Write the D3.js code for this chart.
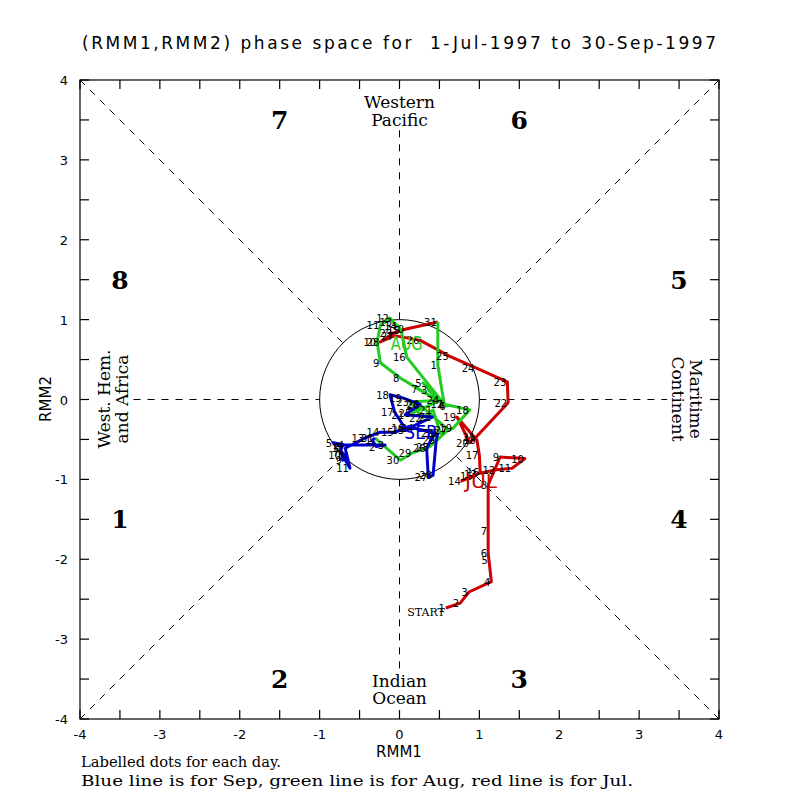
<!DOCTYPE html>
<html>
<head>
<meta charset="UTF-8">
<title>RMM phase space</title>
<style>
body { margin: 0; background: #fff; }
svg text { white-space: pre; }
.tick { font: 13px "DejaVu Sans", sans-serif; }
.serif { font-family: "DejaVu Serif", serif; }
.day { font: 10px "DejaVu Sans", sans-serif; }
</style>
</head>
<body>
<script src="https://cdn.jsdelivr.net/npm/d3@7"></script>
<script>

// RMM1 / RMM2 values for each day
var julRmm1 = [0.58, 0.76, 0.87, 1.15, 1.12, 1.11, 1.11, 1.11, 1.26, 1.57, 1.41, 1.21, 0.98, 0.78, 0.93, 1.01,
               1.00, 0.97, 0.72, 0.88, 0.96, 1.36, 1.35, 0.95, 0.63, 0.26, -0.06, -0.24, -0.08, 0.07, 0.48];
var julRmm2 = [-2.61, -2.55, -2.41, -2.28, -2.01, -1.92, -1.65, -1.07, -0.72, -0.74, -0.86, -0.88, -0.93, -1.02, -0.96, -0.91,
               -0.70, -0.51, -0.22, -0.54, -0.47, -0.04, 0.22, 0.40, 0.54, 0.74, 0.80, 0.72, 0.83, 0.88, 0.97];

var augRmm1 = [0.48, 0.56, 0.36, 0.58, 0.29, 0.59, 0.24, 0.01, -0.24, -0.28, -0.24, -0.12, -0.08, -0.02, 0.02, 0.09,
               0.56, 0.88, 0.67, 0.51, 0.42, 0.29, 0.13, 0.51, 0.16, 0.26, 0.61, 0.38, 0.16, 0.01, -0.31];
var augRmm2 = [0.43, -0.06, 0.12, -0.08, 0.21, -0.08, 0.13, 0.27, 0.46, 0.72, 0.93, 1.02, 0.97, 0.92, 0.87, 0.53,
               -0.06, -0.13, -0.36, -0.42, -0.13, -0.23, -0.03, -0.01, -0.17, -0.07, -0.38, -0.59, -0.67, -0.76, -0.48];

var sepRmm1 = [-0.34, -0.29, -0.18, -0.68, -0.83, -0.72, -0.74, -0.68, -0.71, -0.72, -0.62, -0.68, -0.43, -0.24, -0.06,
               0.07, -0.06, -0.12, 0.04, 0.26, 0.07, 0.41, 0.07, 0.19, 0.44, 0.34, 0.36, 0.42, 0.46, 0.48];
var sepRmm2 = [-0.51, -0.59, -0.57, -0.57, -0.54, -0.59, -0.66, -0.69, -0.76, -0.69, -0.86, -0.61, -0.48, -0.41, -0.41,
               -0.36, -0.16, 0.06, 0.02, -0.06, -0.19, -0.22, -0.38, -0.36, -0.42, -0.61, -0.97, -0.95, -0.51, -0.42];

var months = ["JUL", "AUG", "SEP"];
var monthNames = ["Jul", "Aug", "Sep"];
var monthColors = ["#cc0000", "#22cc22", "#0000cc"];

var axisTicks = [-4, -3, -2, -1, 0, 1, 2, 3, 4];
var phaseNumbers = [1, 2, 3, 4, 5, 6, 7, 8];

var W = 800, H = 800;

var svg = d3.select("body").append("svg")
    .attr("width", W)
    .attr("height", H);

var x = d3.scaleLinear().domain([-4, 4]).range([80, 719]);
var y = d3.scaleLinear().domain([-4, 4]).range([719, 80]);

// title
svg.append("text")
    .attr("x", 82).attr("y", 49)
    .attr("textLength", 634).attr("lengthAdjust", "spacing")
    .style("font", "17px 'DejaVu Sans', sans-serif")
    .text("(RMM1,RMM2) phase space for  1-Jul-1997 to 30-Sep-1997");

// dashed guide lines
var dash = svg.append("g")
    .attr("stroke", "#000").attr("stroke-width", 1)
    .attr("stroke-dasharray", "7,7").attr("fill", "none");

var r = Math.SQRT1_2;
[[-1, -1], [1, -1], [1, 1], [-1, 1]].forEach(function(c) {
  dash.append("line")
      .attr("x1", x(4 * c[0])).attr("y1", y(4 * c[1]))
      .attr("x2", x(r * c[0])).attr("y2", y(r * c[1]));
});
dash.append("line").attr("x1", x(0)).attr("x2", x(0)).attr("y1", y(3.37)).attr("y2", y(1));
dash.append("line").attr("x1", x(0)).attr("x2", x(0)).attr("y1", y(-1)).attr("y2", y(-3.38));
dash.append("line").attr("y1", y(0)).attr("y2", y(0)).attr("x1", x(-3.33)).attr("x2", x(-1));
dash.append("line").attr("y1", y(0)).attr("y2", y(0)).attr("x1", x(1)).attr("x2", x(3.35));

// unit circle
svg.append("circle")
    .attr("cx", x(0)).attr("cy", y(0))
    .attr("r", x(1) - x(0))
    .attr("fill", "none").attr("stroke", "#000").attr("stroke-width", 1);

// frame and inward ticks
var minor = d3.range(-4, 4.01, 0.5);
var axes = svg.append("g").attr("stroke", "#000").attr("stroke-width", 1.2);
axes.append("rect")
    .attr("x", x(-4)).attr("y", y(4))
    .attr("width", x(4) - x(-4)).attr("height", y(-4) - y(4))
    .attr("fill", "none");
minor.forEach(function(t) {
  axes.append("line").attr("x1", x(t)).attr("x2", x(t)).attr("y1", y(-4)).attr("y2", y(-4) - 9);
  axes.append("line").attr("x1", x(t)).attr("x2", x(t)).attr("y1", y(4)).attr("y2", y(4) + 9);
  axes.append("line").attr("y1", y(t)).attr("y2", y(t)).attr("x1", x(-4)).attr("x2", x(-4) + 9);
  axes.append("line").attr("y1", y(t)).attr("y2", y(t)).attr("x1", x(4)).attr("x2", x(4) - 9);
});

svg.selectAll(".xt").data(axisTicks).enter().append("text")
    .attr("class", "tick")
    .attr("x", function(d) { return x(d); })
    .attr("y", 739)
    .attr("text-anchor", "middle")
    .text(function(d) { return d < 0 ? "-" + (-d) : d; });

svg.selectAll(".yt").data(axisTicks).enter().append("text")
    .attr("class", "tick")
    .attr("x", 68)
    .attr("y", function(d) { return y(d) + 5; })
    .attr("text-anchor", "end")
    .text(function(d) { return d < 0 ? "-" + (-d) : d; });

svg.append("text")
    .attr("x", 399).attr("y", 757)
    .attr("text-anchor", "middle")
    .style("font", "15px 'DejaVu Sans', sans-serif")
    .text("RMM1");
svg.append("text")
    .attr("transform", "translate(51,399) rotate(-90)")
    .attr("text-anchor", "middle")
    .style("font", "15px 'DejaVu Sans', sans-serif")
    .text("RMM2");

// phase numbers
var phasePos = {1: [-3.5, -1.5], 2: [-1.5, -3.5], 3: [1.5, -3.5], 4: [3.5, -1.5],
                5: [3.5, 1.5], 6: [1.5, 3.5], 7: [-1.5, 3.5], 8: [-3.5, 1.5]};
svg.selectAll(".phase").data(phaseNumbers).enter().append("text")
    .attr("class", "serif")
    .attr("x", function(d) { return x(phasePos[d][0]); })
    .attr("y", function(d) { return y(phasePos[d][1]) + 9; })
    .attr("text-anchor", "middle")
    .style("font-size", "25px").style("font-weight", "bold")
    .text(function(d) { return d; });

// region names
function region(lines, tx, ty, rot, step) {
  var g = svg.append("g").attr("transform", "translate(" + tx + "," + ty + ") rotate(" + rot + ")");
  lines.forEach(function(s, i) {
    g.append("text")
        .attr("class", "serif")
        .attr("x", 0).attr("y", i * step)
        .attr("text-anchor", "middle")
        .style("font-size", "17px")
        .text(s);
  });
}
region(["Western", "Pacific"], x(0), 108, 0, 18);
region(["Indian", "Ocean"], x(0), 687, 0, 17);
region(["West. Hem.", "and Africa"], 110, 399, -90, 18);
region(["Maritime", "Continent"], 690, 399, 90, 18);

// trajectories
var monthData = [
  {u: julRmm1, v: julRmm2},
  {u: augRmm1, v: augRmm2},
  {u: sepRmm1, v: sepRmm2}
];
monthData.forEach(function(m) {
  m.pts = m.u.map(function(d, i) { return [d, m.v[i]]; });
});

// each month's line starts from the last day of the month before
var line = d3.line().x(function(d) { return x(d[0]); }).y(function(d) { return y(d[1]); });
monthData.forEach(function(m, k) {
  var pts = m.pts.slice();
  if (k > 0) pts.unshift(monthData[k - 1].pts[monthData[k - 1].pts.length - 1]);
  svg.append("path")
      .attr("d", line(pts))
      .attr("fill", "none")
      .attr("stroke", monthColors[k])
      .attr("stroke-width", 3)
      .attr("stroke-linejoin", "round");
});

// day labels
monthData.forEach(function(m) {
  svg.selectAll(null).data(m.pts).enter().append("text")
      .attr("class", "day")
      .attr("x", function(d) { return x(d[0]) - 1; })
      .attr("y", function(d) { return y(d[1]) + 4; })
      .attr("text-anchor", "end")
      .text(function(d, i) { return i + 1; });
});

svg.append("text")
    .attr("class", "serif")
    .attr("x", x(julRmm1[0]) - 1).attr("y", y(julRmm2[0]) + 8)
    .attr("text-anchor", "end")
    .style("font-size", "11px")
    .text("START");

// month names near the paths
var monthAt = [[1.02, -1.02], [0.09, 0.71], [0.26, -0.41]];
months.forEach(function(s, k) {
  svg.append("text")
      .attr("x", x(monthAt[k][0])).attr("y", y(monthAt[k][1]) + 7)
      .attr("text-anchor", "middle")
      .attr("textLength", 32).attr("lengthAdjust", "spacingAndGlyphs")
      .style("font", "19px 'DejaVu Sans', sans-serif")
      .attr("fill", monthColors[k])
      .text(s);
});

// footer
svg.append("text")
    .attr("class", "serif")
    .attr("x", 81).attr("y", 767)
    .attr("textLength", 200).attr("lengthAdjust", "spacingAndGlyphs")
    .style("font-size", "14px")
    .text("Labelled dots for each day.");
svg.append("text")
    .attr("class", "serif")
    .attr("x", 81).attr("y", 786)
    .attr("textLength", 552).attr("lengthAdjust", "spacingAndGlyphs")
    .style("font-size", "14px")
    .text("Blue line is for " + monthNames[2] + ", green line is for " + monthNames[1] +
          ", red line is for " + monthNames[0] + ".");

</script>
</body>
</html>
